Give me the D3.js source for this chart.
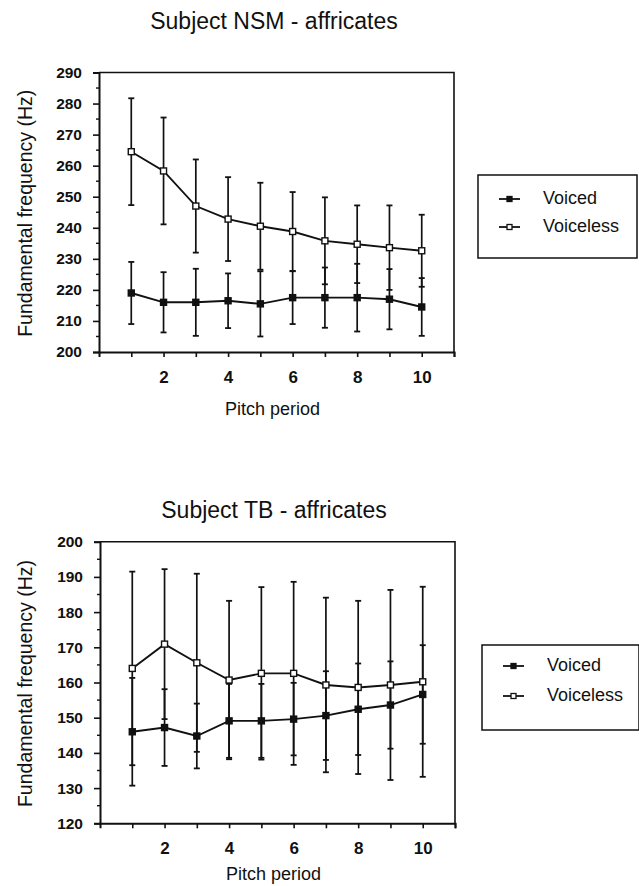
<!DOCTYPE html>
<html>
<head>
<meta charset="utf-8">
<script src="https://cdn.jsdelivr.net/npm/d3@7"></script>
<style>
  html, body { margin: 0; padding: 0; background: #fff; }
  svg { display: block; }
  text { fill: #111; }
</style>
</head>
<body>
<svg id="chart" width="639" height="886"></svg>
<script>
// ---------- data ----------
const periods = [1, 2, 3, 4, 5, 6, 7, 8, 9, 10];
const xTickLabels = [2, 4, 6, 8, 10];

const nsmTitle = "Subject NSM - affricates";
const nsmYTicks = [200, 210, 220, 230, 240, 250, 260, 270, 280, 290];
const nsmVoiced = [219, 216, 216, 216.5, 215.5, 217.5, 217.5, 217.5, 217, 214.5];
const nsmVoicedSD = [10, 9.7, 10.8, 8.8, 10.5, 8.5, 9.7, 10.9, 9.7, 9.3];
const nsmVoiceless = [264.5, 258.3, 247, 242.8, 240.5, 238.8, 235.8, 234.7, 233.6, 232.6];
const nsmVoicelessSD = [17.2, 17.2, 15, 13.5, 14, 12.7, 14, 12.5, 13.6, 11.6];

const tbTitle = "Subject TB - affricates";
const tbYTicks = [120, 130, 140, 150, 160, 170, 180, 190, 200];
const tbVoiced = [146, 147.2, 144.8, 149.1, 149.1, 149.6, 150.6, 152.4, 153.6, 156.6];
const tbVoicedSD = [15.3, 10.9, 9.2, 10.5, 10.5, 10.3, 12.6, 13, 12.4, 14];
const tbVoiceless = [164, 170.9, 165.6, 160.7, 162.6, 162.6, 159.3, 158.6, 159.3, 160.2];
const tbVoicelessSD = [27.5, 21.3, 25.3, 22.5, 24.5, 26, 24.8, 24.6, 27, 27];

const seriesNames = ["Voiced", "Voiceless"];
const yTitle = "Fundamental frequency (Hz)";
const xTitle = "Pitch period";

// ---------- drawing ----------
const svg = d3.select("#chart");
const SANS = "'Liberation Sans', Arial, Helvetica, sans-serif";

function panel(cfg) {
  const g = svg.append("g");
  const x = d3.scaleLinear().domain([0, 11]).range([cfg.left, cfg.right]);
  const y = d3.scaleLinear().domain(cfg.yDomain).range([cfg.bottom, cfg.top]);

  // title
  g.append("text")
    .attr("x", cfg.titleX).attr("y", cfg.titleY)
    .attr("text-anchor", "middle")
    .style("font-family", SANS).style("font-size", "23px")
    .text(cfg.title);

  // frame (top & right)
  g.append("path")
    .attr("d", `M${cfg.left},${cfg.top}H${cfg.right}V${cfg.bottom}`)
    .attr("fill", "none").attr("stroke", "#111").attr("stroke-width", 1.6);

  // y axis
  const yMinor = d3.range(cfg.yDomain[0] + 5, cfg.yDomain[1], 10);
  const yAx = d3.axisLeft(y).tickValues(cfg.yTicks).tickSize(6).tickPadding(11).tickFormat(d3.format("d"));
  const yg = g.append("g").attr("transform", `translate(${cfg.left},0)`).call(yAx);
  yg.select(".domain").attr("stroke", "#111").attr("stroke-width", 2);
  yg.selectAll(".tick line").attr("stroke", "#111").attr("stroke-width", 1.6);
  yg.selectAll(".tick text").style("font-family", SANS).style("font-size", "15.5px")
    .style("font-weight", "bold").attr("fill", "#111");
  yg.selectAll(".minor").data(yMinor).enter().append("line")
    .attr("class", "minor")
    .attr("x1", -3).attr("x2", 0)
    .attr("y1", d => y(d)).attr("y2", d => y(d))
    .attr("stroke", "#111").attr("stroke-width", 1.4);

  // x axis
  const xAx = d3.axisBottom(x).tickValues(d3.range(1, 12)).tickSize(5).tickPadding(14)
    .tickFormat(d => xTickLabels.includes(d) ? d : "");
  const xg = g.append("g").attr("transform", `translate(0,${cfg.bottom})`).call(xAx);
  xg.select(".domain").attr("stroke", "#111").attr("stroke-width", 2);
  xg.selectAll(".tick line").attr("stroke", "#111").attr("stroke-width", 1.6);
  xg.selectAll(".tick text").style("font-family", SANS).style("font-size", "17px")
    .style("font-weight", "bold").attr("fill", "#111");

  // axis titles
  g.append("text")
    .attr("transform", `translate(${cfg.yTitleX},${(cfg.top + cfg.bottom) / 2 + 1}) rotate(-90)`)
    .attr("text-anchor", "middle")
    .style("font-family", SANS).style("font-size", "19.5px")
    .text(yTitle);
  g.append("text")
    .attr("x", (cfg.left + cfg.right) / 2 - 4).attr("y", cfg.xTitleY)
    .attr("text-anchor", "middle")
    .style("font-family", SANS).style("font-size", "18px")
    .text(xTitle);

  // series
  const series = [
    { name: seriesNames[0], vals: cfg.voiced, sd: cfg.voicedSD, filled: true },
    { name: seriesNames[1], vals: cfg.voiceless, sd: cfg.voicelessSD, filled: false }
  ];
  const capW = 3;
  series.forEach(s => {
    const pts = periods.map((p, i) => ({ p, v: s.vals[i], sd: s.sd[i] }));
    const eb = g.append("g");
    eb.selectAll("line.bar").data(pts).enter().append("line")
      .attr("x1", d => x(d.p)).attr("x2", d => x(d.p))
      .attr("y1", d => y(d.v - d.sd)).attr("y2", d => y(d.v + d.sd))
      .attr("stroke", "#111").attr("stroke-width", 1.7);
    eb.selectAll("line.capT").data(pts).enter().append("line")
      .attr("x1", d => x(d.p) - capW).attr("x2", d => x(d.p) + capW)
      .attr("y1", d => y(d.v + d.sd)).attr("y2", d => y(d.v + d.sd))
      .attr("stroke", "#111").attr("stroke-width", 1.8);
    eb.selectAll("line.capB").data(pts).enter().append("line")
      .attr("x1", d => x(d.p) - capW).attr("x2", d => x(d.p) + capW)
      .attr("y1", d => y(d.v - d.sd)).attr("y2", d => y(d.v - d.sd))
      .attr("stroke", "#111").attr("stroke-width", 1.8);
  });
  series.forEach(s => {
    const pts = periods.map((p, i) => ({ p, v: s.vals[i] }));
    g.append("path").datum(pts)
      .attr("d", d3.line().x(d => x(d.p)).y(d => y(d.v)))
      .attr("fill", "none").attr("stroke", "#111").attr("stroke-width", 1.9);
  });
  series.forEach(s => {
    const pts = periods.map((p, i) => ({ p, v: s.vals[i] }));
    g.selectAll(null).data(pts).enter().append("rect")
      .attr("x", d => x(d.p) - 3).attr("y", d => y(d.v) - 3)
      .attr("width", 6).attr("height", 6)
      .attr("fill", s.filled ? "#111" : "#fff")
      .attr("stroke", "#111").attr("stroke-width", 1.4);
  });

  // legend
  const L = cfg.legend;
  g.append("rect")
    .attr("x", L.x).attr("y", L.y).attr("width", L.w).attr("height", L.h)
    .attr("fill", "none").attr("stroke", "#111").attr("stroke-width", 1.5);
  series.forEach((s, i) => {
    const cy = L.y + L.row0 + i * L.rowGap;
    const lx = L.x + 21;
    g.append("line").attr("x1", lx).attr("x2", lx + 21).attr("y1", cy).attr("y2", cy)
      .attr("stroke", "#111").attr("stroke-width", 1.8);
    g.append("rect").attr("x", lx + 8).attr("y", cy - 2.5).attr("width", 5).attr("height", 5)
      .attr("fill", s.filled ? "#111" : "#fff").attr("stroke", "#111").attr("stroke-width", 1.3);
    g.append("text").attr("x", L.x + 65).attr("y", cy + 5)
      .style("font-family", SANS).style("font-size", "18px")
      .text(s.name);
  });
}

panel({
  title: nsmTitle, titleX: 274, titleY: 29,
  left: 99, right: 454, top: 72.5, bottom: 352,
  yDomain: [200, 290], yTicks: nsmYTicks,
  voiced: nsmVoiced, voicedSD: nsmVoicedSD,
  voiceless: nsmVoiceless, voicelessSD: nsmVoicelessSD,
  yTitleX: 32, xTitleY: 415,
  legend: { x: 478, y: 175, w: 159, h: 83, row0: 24, rowGap: 28 }
});

panel({
  title: tbTitle, titleX: 274, titleY: 518,
  left: 100, right: 455, top: 541.7, bottom: 823.3,
  yDomain: [120, 200], yTicks: tbYTicks,
  voiced: tbVoiced, voicedSD: tbVoicedSD,
  voiceless: tbVoiceless, voicelessSD: tbVoicelessSD,
  yTitleX: 32, xTitleY: 880,
  legend: { x: 482, y: 645, w: 157, h: 85, row0: 21, rowGap: 30 }
});
</script>
</body>
</html>
